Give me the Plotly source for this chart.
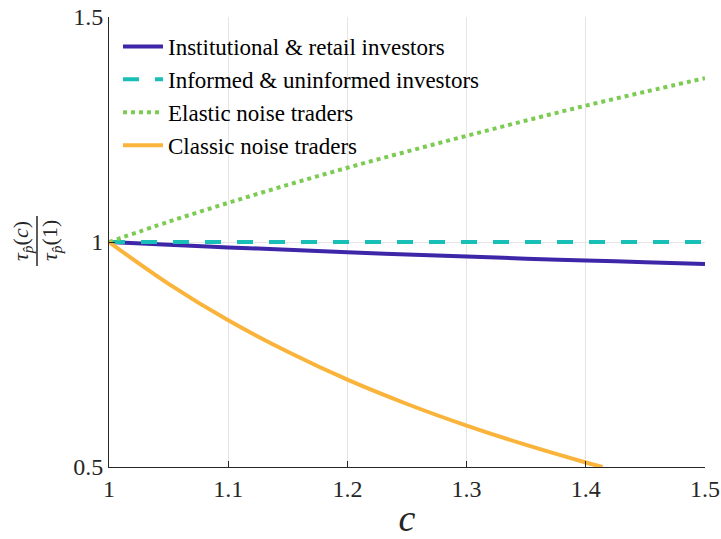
import plotly.graph_objects as go

# Trading-cost elasticity of price informativeness, normalised at c = 1
c_vals = [1.00, 1.05, 1.10, 1.15, 1.20, 1.25, 1.30, 1.35, 1.40, 1.45, 1.50]
institutional = [1.000, 0.994, 0.988, 0.983, 0.977, 0.972, 0.968, 0.963, 0.959, 0.955, 0.951]
informed = [1.000, 1.000, 1.000, 1.000, 1.000, 1.000, 1.000, 1.000, 1.000, 1.000, 1.000]
elastic = [1.000, 1.045, 1.087, 1.127, 1.165, 1.201, 1.236, 1.270, 1.303, 1.334, 1.364]
classic_c = [1.00, 1.05, 1.10, 1.15, 1.20, 1.25, 1.30, 1.35, 1.40, 1.414]
classic = [1.000, 0.907, 0.826, 0.756, 0.694, 0.640, 0.592, 0.549, 0.510, 0.500]

x_ticks = [1.0, 1.1, 1.2, 1.3, 1.4, 1.5]
x_ticktext = ["1", "1.1", "1.2", "1.3", "1.4", "1.5"]
y_ticks = [0.5, 1.0, 1.5]
y_ticktext = ["0.5", "1", "1.5"]

series_names = [
    "Institutional & retail investors",
    "Informed & uninformed investors",
    "Elastic noise traders",
    "Classic noise traders",
]
colors = ["#3E26A8", "#17BFB7", "#7CCB52", "#FBB43B"]

FONT = "Liberation Serif"
LW = 4
TAU = "\u03c4"
PHAT = "p\u0302"

fig = go.Figure()
fig.add_trace(go.Scatter(x=c_vals, y=institutional, mode="lines", name=series_names[0],
                         line=dict(color=colors[0], width=LW, shape="spline")))
fig.add_trace(go.Scatter(x=c_vals, y=informed, mode="lines", name=series_names[1],
                         line=dict(color=colors[1], width=LW, dash="16px,16px")))
fig.add_trace(go.Scatter(x=c_vals, y=elastic, mode="lines", name=series_names[2],
                         line=dict(color=colors[2], width=LW, dash="dot", shape="spline")))
fig.add_trace(go.Scatter(x=classic_c, y=classic, mode="lines", name=series_names[3],
                         line=dict(color=colors[3], width=LW, shape="spline")))

L, R, T, B = 109, 16, 17, 72
W, H = 721, 539
pw, ph = W - L - R, H - T - B


def px_x(p):
    return (p - L) / pw


def px_y(p):
    return (H - B - p) / ph


fig.update_layout(
    template="none",
    width=W, height=H,
    margin=dict(l=L, r=R, t=T, b=B, autoexpand=False),
    paper_bgcolor="white", plot_bgcolor="white",
    font=dict(family=FONT, size=24, color="#262626"),
    showlegend=True,
    legend=dict(x=px_x(118), y=px_y(25), xanchor="left", yanchor="top",
                bgcolor="rgba(0,0,0,0)", borderwidth=0,
                font=dict(family=FONT, size=23, color="#000000"),
                itemwidth=40, tracegroupgap=0),
    xaxis=dict(range=[1, 1.5], tickvals=x_ticks, ticktext=x_ticktext,
               automargin=False,
               showgrid=True, gridcolor="#E5E5E5", gridwidth=1,
               showline=True, linecolor="#262626", linewidth=1, mirror=False,
               ticks="inside", ticklen=6, tickcolor="#262626",
               zeroline=False, tickfont=dict(family=FONT, size=24, color="#262626"),
               title=dict(text="<i>c</i>", font=dict(family=FONT, size=38, color="#262626"),
                          standoff=8)),
    yaxis=dict(range=[0.5, 1.5], tickvals=y_ticks, ticktext=y_ticktext,
               automargin=False,
               showgrid=True, gridcolor="#E5E5E5", gridwidth=1,
               showline=True, linecolor="#262626", linewidth=1, mirror=False,
               ticks="inside", ticklen=6, tickcolor="#262626",
               zeroline=False, tickfont=dict(family=FONT, size=24, color="#262626")),
)

# y-axis label drawn as a stacked fraction, rotated
frac_font = dict(family=FONT, size=22, color="#262626")
fig.add_annotation(xref="paper", yref="paper", x=px_x(22), y=px_y(241),
                   text="<i>" + TAU + "</i><sub><i>" + PHAT + "</i></sub>(<i>c</i>)",
                   showarrow=False, textangle=-90, xanchor="center", yanchor="middle",
                   font=frac_font)
fig.add_annotation(xref="paper", yref="paper", x=px_x(51), y=px_y(241),
                   text="<i>" + TAU + "</i><sub><i>" + PHAT + "</i></sub>(1)",
                   showarrow=False, textangle=-90, xanchor="center", yanchor="middle",
                   font=frac_font)
fig.add_shape(type="line", xref="paper", yref="paper",
              x0=px_x(37), x1=px_x(37), y0=px_y(216), y1=px_y(266),
              line=dict(color="#262626", width=1.5))

# make sure every text element carries the serif face after drawing
serif_js = (
    "var gd = document.getElementById('{plot_id}');"
    "if (gd) { gd.querySelectorAll('text').forEach(function(t){"
    "t.style.setProperty('font-family', 'Liberation Serif, serif', 'important');}); }"
)

fig.write_html("out.html", post_script=serif_js)
